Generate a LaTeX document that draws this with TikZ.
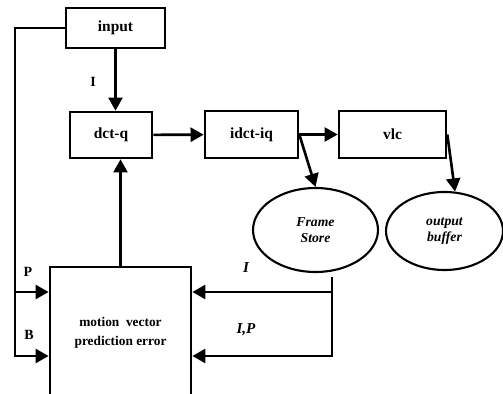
\documentclass[tikz,border=0pt]{standalone}
\usepackage{fontspec}
\setmainfont{Liberation Serif}
\usepackage{tikz}
\usetikzlibrary{arrows.meta}
\usetikzlibrary{positioning}
\usetikzlibrary{shapes.geometric}

\begin{document}
\begin{tikzpicture}[x=0.02cm,y=-0.02cm,line width=1.5pt,>={Triangle[length=7.5pt,width=8pt]},
    font=\bfseries\fontsize{8}{9.5}\selectfont,
    blk/.style={draw,rectangle,inner sep=0pt,align=center,font=\bfseries\fontsize{8.8}{10}\selectfont},
    store/.style={draw,ellipse,line width=1.2pt,inner sep=0pt,align=center,font=\bfseries\itshape\fontsize{7.8}{9.5}\selectfont},
    lbl/.style={inner sep=0pt}]
    \useasboundingbox (0,0) rectangle (503,394);
    \clip (0,0) rectangle (503,394);

    \node[blk,minimum width=1.98cm,minimum height=0.8cm] (input) at (115.5,28) {input};
    \node[blk,minimum width=1.64cm,minimum height=0.92cm] (dctq) at (111,135) {dct-q};
    \node[blk,minimum width=1.86cm,minimum height=0.94cm] (idctiq) at (251.5,134.5) {idct-iq};
    \node[blk,minimum width=2.14cm,minimum height=0.94cm] (vlc) at (392.5,134.5) {vlc};
    \node[store,minimum width=2.5cm,minimum height=1.68cm] (fstore) at (315.5,230) {Frame\\Store};
    \node[store,minimum width=2.34cm,minimum height=1.56cm] (obuf) at (444.5,231) {output\\buffer};
    \node[blk,minimum width=2.82cm,minimum height=2.64cm,font=\bfseries\fontsize{7.6}{10.5}\selectfont] (motion) at (120.5,333) {motion~~vector\\prediction error};

    \coordinate (pbr) at (15,292);
    \coordinate (bbr) at (15,356);
    \coordinate (rtop) at (332,277);

    \node[lbl] (ilbl) at (93,82) {I};
    \node[lbl] (plbl) at (28,272) {P};
    \node[lbl] (blbl) at (29,335) {B};
    \node[lbl,font=\bfseries\itshape\fontsize{8.6}{10}\selectfont] (iplbl) at (246,268) {I};
    \node[lbl,font=\bfseries\itshape\fontsize{8.6}{10}\selectfont] (ipplbl) at (246,330) {I,P};

    \draw[->] (input.south) -- (input.south |- dctq.north);
    \draw[->] (dctq) -- (idctiq);
    \draw[->] (idctiq) -- (vlc);
    \draw[->] (motion.north) -- (motion.north |- dctq.south);
    \draw[->] (idctiq.east) -- (fstore.north);
    \draw[->] (vlc.east) -- (obuf.75);
    \draw[->] (input.west) -| (bbr) -- (bbr -| motion.west);
    \draw[->] (pbr) -- (pbr -| motion.west);
    \draw[->] (rtop) |- (pbr -| motion.east);
    \draw[->] (rtop) |- (bbr -| motion.east);
  \end{tikzpicture}
\end{document}
